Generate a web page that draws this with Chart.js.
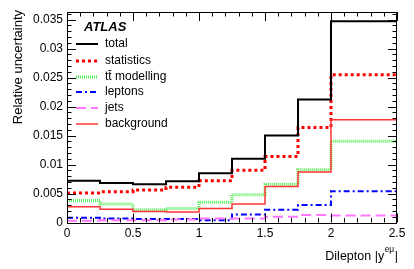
<!DOCTYPE html>
<html>
<head>
<meta charset="utf-8">
<script src="https://cdn.jsdelivr.net/npm/chart.js@4/dist/chart.umd.min.js"></script>
<style>
html,body{margin:0;padding:0;background:#fff;}
#wrap{width:414px;height:269px;position:relative;}
</style>
</head>
<body>
<div id="wrap"><canvas id="c" width="414" height="269"></canvas></div>
<script>
// Bin edges of dilepton |y^{eμ}|
const binEdges = [0, 0.25, 0.5, 0.75, 1.0, 1.25, 1.5, 1.75, 2.0, 2.5];
// Relative uncertainties per bin
const total      = [0.0072, 0.0068, 0.0066, 0.0071, 0.0085, 0.0110, 0.0150, 0.0212, 0.0347];
const statistics = [0.0051, 0.0053, 0.0056, 0.0061, 0.0072, 0.0090, 0.0114, 0.0164, 0.0255];
const ttModelling= [0.0038, 0.0032, 0.0022, 0.0024, 0.0035, 0.0048, 0.0066, 0.0091, 0.0140];
const leptons    = [0.0008, 0.0007, 0.0006, 0.0006, 0.0004, 0.0014, 0.0022, 0.0030, 0.0054];
const jets       = [0.0003, 0.0004, 0.0004, 0.0005, 0.0007, 0.0007, 0.0010, 0.0013, 0.0012];
const background = [0.0027, 0.0023, 0.0019, 0.0018, 0.0024, 0.0032, 0.0062, 0.0087, 0.0177];
const seriesLabels = ["total", "statistics", "t\u0074\u0304 modelling", "leptons", "jets", "background"];
const xTickLabels = ["0", "0.5", "1", "1.5", "2", "2.5"];
const yTickLabels = ["0", "0.005", "0.01", "0.015", "0.02", "0.025", "0.03", "0.035"];

function histPoints(vals){
  const pts = vals.map((v,i)=>({x:binEdges[i], y:v}));
  pts.push({x:binEdges[binEdges.length-1], y:vals[vals.length-1]});
  return pts;
}

const styles = [
  {color:'#000000', width:2,   dash:[]},
  {color:'#ff0000', width:3,   dash:[3,3]},
  {color:'#55ee55', width:3,   dash:[1,1]},
  {color:'#0000ff', width:2,   dash:[6,3,2,3]},
  {color:'#ff77ff', width:2,   dash:[10,5]},
  {color:'#ff3333', width:1.5, dash:[]}
];
const seriesVals = [total, statistics, ttModelling, leptons, jets, background];

const datasets = seriesVals.map((vals,i)=>({
  label: seriesLabels[i],
  data: histPoints(vals),
  stepped: 'before',
  borderColor: styles[i].color,
  borderWidth: styles[i].width,
  borderDash: styles[i].dash,
  pointRadius: 0,
  fill: false,
  order: i === 0 ? 0 : 6 - i
}));

const FONT = '"Liberation Sans", Arial, Helvetica, sans-serif';

const decorPlugin = {
  id: 'decor',
  afterDatasetsDraw(chart){
    const ctx = chart.ctx;
    const a = chart.chartArea;
    const xs = chart.scales.x, ys = chart.scales.y;
    ctx.save();
    ctx.strokeStyle = '#000';
    ctx.lineWidth = 1;
    ctx.setLineDash([]);
    // frame
    ctx.strokeRect(Math.round(a.left)+0.5, Math.round(a.top)+0.5, Math.round(a.right-a.left)-1, Math.round(a.bottom-a.top));
    // x ticks
    ctx.beginPath();
    for (let k=0; k<=25; k++){
      const v = k*0.1;
      const px = Math.round(xs.getPixelForValue(v))+0.5;
      const len = (k%5===0) ? 9 : 4.5;
      ctx.moveTo(px, a.bottom); ctx.lineTo(px, a.bottom-len);
      ctx.moveTo(px, a.top); ctx.lineTo(px, a.top+len);
    }
    // y ticks
    for (let k=0; k<=36; k++){
      const v = k*0.001;
      if (v > ys.max) break;
      const py = Math.round(ys.getPixelForValue(v))+0.5;
      const len = (k%5===0) ? 9 : 4.5;
      ctx.moveTo(a.left, py); ctx.lineTo(a.left+len, py);
      ctx.moveTo(a.right, py); ctx.lineTo(a.right-len, py);
    }
    ctx.stroke();

    // ATLAS label
    ctx.fillStyle = '#000';
    ctx.font = 'italic bold 13px ' + FONT;
    ctx.textBaseline = 'middle';
    ctx.textAlign = 'left';
    ctx.fillText('ATLAS', 84, 27);

    // legend
    ctx.font = '12px ' + FONT;
    const rowY = [44, 61, 77, 92, 108, 124];
    chart.data.datasets.forEach((ds,i)=>{
      const y = rowY[i];
      ctx.save();
      ctx.strokeStyle = ds.borderColor;
      ctx.lineWidth = ds.borderWidth;
      ctx.setLineDash(ds.borderDash);
      ctx.beginPath();
      ctx.moveTo(76, y); ctx.lineTo(98, y);
      ctx.stroke();
      ctx.restore();
      ctx.fillStyle = '#000';
      ctx.fillText(ds.label, 105, y);
    });

    // y-axis title
    ctx.save();
    ctx.translate(18, 10);
    ctx.rotate(-Math.PI/2);
    ctx.textAlign = 'right';
    ctx.textBaseline = 'middle';
    ctx.font = '13px ' + FONT;
    ctx.fillText('Relative uncertainty', 0, 0);
    ctx.restore();

    // x-axis title with superscript
    ctx.textBaseline = 'alphabetic';
    ctx.textAlign = 'left';
    const main = 'Dilepton |y', sup = 'e\u03bc', tail = '|';
    ctx.font = '12.5px ' + FONT;
    const w1 = ctx.measureText(main).width, w3 = ctx.measureText(tail).width;
    ctx.font = '8.5px ' + FONT;
    const w2 = ctx.measureText(sup).width;
    let x0 = 398 - (w1 + w2 + 1 + w3);
    const base = 260;
    ctx.font = '12.5px ' + FONT;
    ctx.fillText(main, x0, base);
    ctx.font = '8.5px ' + FONT;
    ctx.fillText(sup, x0 + w1 + 0.5, base - 8);
    ctx.font = '12.5px ' + FONT;
    ctx.fillText(tail, x0 + w1 + w2 + 1, base);
    ctx.restore();
  }
};

new Chart(document.getElementById('c'), {
  type: 'line',
  data: { datasets },
  options: {
    responsive: false,
    animation: false,
    devicePixelRatio: 1,
    layout: { padding: { left: 0, right: 17, top: 12, bottom: 0 } },
    plugins: { legend: { display: false }, tooltip: { enabled: false } },
    scales: {
      x: {
        type: 'linear', min: 0, max: 2.5,
        grid: { display: false, drawTicks: false },
        border: { display: false },
        afterFit(s){ s.height = 46.5; },
        ticks: {
          stepSize: 0.5, includeBounds: false, padding: 4, maxRotation: 0,
          color: '#000', font: { family: FONT, size: 12 },
          callback: (v) => { const i = Math.round(v/0.5); return xTickLabels[i]; }
        }
      },
      y: {
        type: 'linear', min: 0, max: 0.0363,
        grid: { display: false, drawTicks: false },
        border: { display: false },
        afterFit(s){ s.width = 67; },
        ticks: {
          stepSize: 0.005, includeBounds: false, padding: 4,
          color: '#000', font: { family: FONT, size: 12 },
          callback: (v) => { const i = Math.round(v/0.005); return yTickLabels[i]; }
        }
      }
    }
  },
  plugins: [decorPlugin]
});
</script>
</body>
</html>
